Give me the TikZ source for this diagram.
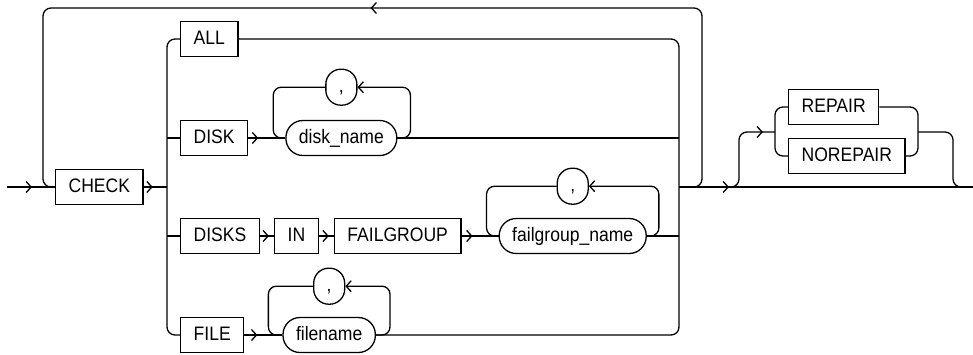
\documentclass[tikz,border=0pt]{standalone}
\usepackage{fontspec}
\setmainfont{Liberation Sans}[FakeStretch=0.9]
\usepackage{tikz}
\usetikzlibrary{arrows.meta, positioning, calc, decorations.markings}

\tikzset{
  chev/.tip={Straight Barb[length=5pt,width=11pt]},
  rail/.style={rounded corners=8pt},
  kwbox/.style={draw, minimum height=35pt, inner xsep=13pt, text height=14pt, text depth=4pt,
    font=\fontsize{19.5}{22}\selectfont},
  varbox/.style={kwbox, rounded corners=17pt},
  sepbox/.style={kwbox, rounded corners=15pt, minimum width=31pt, minimum height=36pt, inner xsep=0pt},
  fwdarr/.style={postaction={decorate},
    decoration={markings, mark=at position #1 with {\arrow{chev}}}},
}

\begin{document}
\begin{tikzpicture}[x=1pt, y=-1pt, line width=1.3pt]
\useasboundingbox (0,0) rectangle (973,354);
% junctions
\coordinate (start) at (7,187);
\coordinate (jl) at (167,187);
\coordinate (jr) at (679,187);
\coordinate (fin) at (973,187);
\coordinate (loopR) at (694,187);
\coordinate (loopTR) at (702,8);
\coordinate (loopTL) at (43,8);
\coordinate (optA) at (731,187);
\coordinate (optB) at (739,132);
\coordinate (optL) at (775,132);
\coordinate (optR) at (918,132);
\coordinate (optC) at (953,187);
\coordinate (optD) at (961,187);

% keywords and names
\node[kwbox, anchor=west] (check) at (55,187) {CHECK};
\node[kwbox, anchor=west] (all) at (180,39) {ALL};
\node[kwbox, anchor=west] (disk) at (180,138) {DISK};
\node[varbox, right=37pt of disk] (diskname) {disk\_name};
\node[sepbox, above=14pt of diskname] (sepA) {,};
\node[kwbox, anchor=west] (disks) at (180,236) {DISKS};
\node[kwbox, right=14pt of disks] (in) {IN};
\node[kwbox, right=15pt of in] (failgroup) {FAILGROUP};
\node[varbox, right=37pt of failgroup] (fgname) {failgroup\_name};
\node[sepbox, above=13pt of fgname] (sepB) {,};
\node[kwbox, anchor=west] (file) at (180,335) {FILE};
\node[varbox, right=38pt of file] (filename) {filename};
\node[sepbox, above=12pt of filename] (sepC) {,};
\node[kwbox, anchor=west] (repair) at (788,107) {REPAIR};
\node[kwbox, anchor=west] (norepair) at (788,156) {NOREPAIR};

% entry and repeat loop
\draw[fwdarr=25pt] (start) -- (check);
\draw[rail, fwdarr=0.5] (loopR) -| (loopTR) -- (loopTL) |- (check.west);

% choice
\draw[fwdarr=9pt] (check) -- (jl);
\draw[rail] (all) -| (jl) |- (file);
\draw (jl |- disk) -- (disk);
\draw (jl |- disks) -- (disks);
\draw[rail] (all) -| (jr) |- (filename);
\draw (diskname) -- (jr |- diskname);
\draw (fgname) -- (jr |- fgname);

% DISK row
\draw[fwdarr=10pt] (disk) -- (diskname);
\draw[rail, -chev] (diskname.east) -- ++(13,0) |- (sepA);
\draw[rail] (sepA) -| ($(diskname.west)+(-12,0)$) -- (diskname.west);

% DISKS row
\draw[fwdarr=9pt] (disks) -- (in);
\draw[fwdarr=10pt] (in) -- (failgroup);
\draw[fwdarr=11pt] (failgroup) -- (fgname);
\draw[rail, -chev] (fgname.east) -- ++(12,0) |- (sepB);
\draw[rail] (sepB) -| ($(fgname.west)+(-12,0)$) -- (fgname.west);

% FILE row
\draw[fwdarr=13pt] (file) -- (filename);
\draw[rail, -chev] (filename.east) -- ++(14,0) |- (sepC);
\draw[rail] (sepC) -| ($(filename.west)+(-14,0)$) -- (filename.west);

% REPAIR / NOREPAIR
\draw[fwdarr=50pt] (jr) -- (fin);
\draw[rail, fwdarr=-12pt] (optA) -| (optB) -- (optL);
\draw[rail] (repair) -| (optL) |- (norepair);
\draw[rail] (repair) -| (optR) |- (norepair);
\draw[rail] (optR) -| (optC) -- (optD);
\end{tikzpicture}
\end{document}
